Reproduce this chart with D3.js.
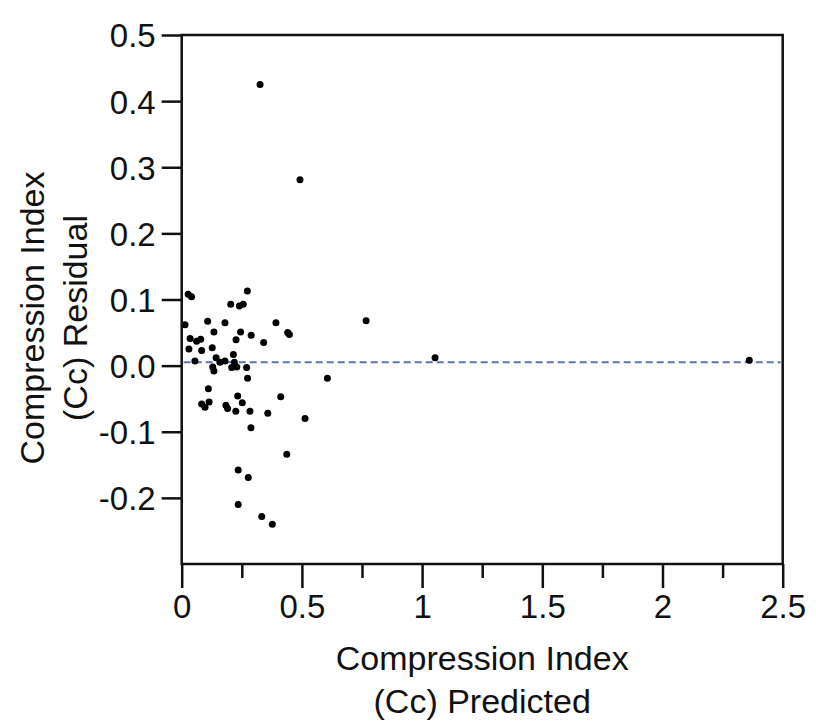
<!DOCTYPE html>
<html>
<head>
<meta charset="utf-8">
<script src="https://cdn.jsdelivr.net/npm/d3@7/dist/d3.min.js"></script>
<style>
  html, body { margin: 0; padding: 0; background: #fff; }
  svg { display: block; }
  text { font-family: "Liberation Sans", Arial, Helvetica, sans-serif; fill: #111; }
</style>
</head>
<body>
<svg id="chart" width="816" height="723"></svg>
<script>
// ---- Data ----
const predicted = [
  0.326, 0.492, 1.054, 2.361, 0.767, 0.606, 0.027, 0.041, 0.273, 0.204,
  0.240, 0.256, 0.014, 0.108, 0.180, 0.134, 0.245, 0.289, 0.392, 0.441,
  0.448, 0.341, 0.035, 0.062, 0.079, 0.226, 0.030, 0.083, 0.127, 0.055,
  0.143, 0.159, 0.180, 0.215, 0.219, 0.208, 0.229, 0.129, 0.134, 0.270,
  0.274, 0.111, 0.083, 0.097, 0.114, 0.184, 0.191, 0.233, 0.252, 0.225,
  0.284, 0.412, 0.358, 0.513, 0.288, 0.437, 0.235, 0.277, 0.235, 0.333,
  0.377
];
const residual = [
  0.425, 0.281, 0.012, 0.008, 0.068, -0.019, 0.108, 0.104, 0.113, 0.093,
  0.090, 0.093, 0.062, 0.067, 0.065, 0.051, 0.051, 0.046, 0.065, 0.050,
  0.047, 0.035, 0.041, 0.037, 0.040, 0.039, 0.025, 0.023, 0.027, 0.007,
  0.012, 0.005, 0.007, 0.017, 0.005, -0.003, -0.002, -0.002, -0.008, -0.003,
  -0.019, -0.035, -0.058, -0.063, -0.055, -0.060, -0.065, -0.046, -0.056, -0.069,
  -0.069, -0.047, -0.072, -0.080, -0.094, -0.134, -0.158, -0.169, -0.210, -0.228,
  -0.240
];
const xMajorTicks = [0, 0.5, 1, 1.5, 2, 2.5];
const xMinorTicks = [0.25, 0.75, 1.25, 1.75, 2.25];
const xTickLabels = ["0", "0.5", "1", "1.5", "2", "2.5"];
const yTicks = [-0.2, -0.1, 0, 0.1, 0.2, 0.3, 0.4, 0.5];
const yTickLabels = ["-0.2", "-0.1", "0.0", "0.1", "0.2", "0.3", "0.4", "0.5"];
const xDomain = [0, 2.5];
const yDomain = [-0.3, 0.5];
const referenceLine = 0.005;
const xTitle = ["Compression Index", "(Cc) Predicted"];
const yTitle = ["Compression Index", "(Cc) Residual"];

(function () {
// ---- Layout ----
const pL = 181.7, pR = 782.7, pT = 35, pB = 564;
const svg = d3.select("#chart");
const x = d3.scaleLinear().domain(xDomain).range([pL, pR]);
const y = d3.scaleLinear().domain(yDomain).range([pB, pT]);

// reference line
svg.append("line")
  .attr("x1", x(xDomain[0]) + 2).attr("x2", x(xDomain[1]) - 2)
  .attr("y1", y(referenceLine)).attr("y2", y(referenceLine))
  .attr("stroke", "#5a75b4").attr("stroke-width", 2)
  .attr("stroke-dasharray", "7,4");

// points
svg.append("g").selectAll("circle")
  .data(predicted.map((p, i) => [p, residual[i]]))
  .join("circle")
  .attr("cx", d => x(d[0]))
  .attr("cy", d => y(d[1]))
  .attr("r", 3.5)
  .attr("fill", "#000");

// frame
svg.append("rect")
  .attr("x", pL).attr("y", pT)
  .attr("width", pR - pL).attr("height", pB - pT)
  .attr("fill", "none").attr("stroke", "#111").attr("stroke-width", 2.5);

// x axis major
const xAxis = svg.append("g")
  .attr("transform", `translate(0,${pB})`)
  .call(d3.axisBottom(x).tickValues(xMajorTicks)
    .tickFormat((d, i) => xTickLabels[i]).tickSize(24).tickPadding(6));
xAxis.select(".domain").remove();
xAxis.selectAll("line").attr("stroke", "#111").attr("stroke-width", 2.5);
xAxis.selectAll("text").attr("font-size", 33).attr("fill", "#111")
  .attr("font-family", '"Liberation Sans", Arial, sans-serif')
  .attr("dy", "0.72em");

// x axis minor
const xMinor = svg.append("g")
  .attr("transform", `translate(0,${pB})`)
  .call(d3.axisBottom(x).tickValues(xMinorTicks).tickFormat("").tickSize(14));
xMinor.select(".domain").remove();
xMinor.selectAll("line").attr("stroke", "#111").attr("stroke-width", 2.5);

// y axis
const yAxis = svg.append("g")
  .attr("transform", `translate(${pL},0)`)
  .call(d3.axisLeft(y).tickValues(yTicks)
    .tickFormat((d, i) => yTickLabels[i]).tickSize(20).tickPadding(6));
yAxis.select(".domain").remove();
yAxis.selectAll("line").attr("stroke", "#111").attr("stroke-width", 2.5);
yAxis.selectAll("text").attr("font-size", 33).attr("fill", "#111")
  .attr("font-family", '"Liberation Sans", Arial, sans-serif')
  .attr("dy", "0.36em");

// x title
svg.append("text").attr("x", (pL + pR) / 2).attr("y", 670)
  .attr("text-anchor", "middle").attr("font-size", 34).text(xTitle[0]);
svg.append("text").attr("x", (pL + pR) / 2).attr("y", 713)
  .attr("text-anchor", "middle").attr("font-size", 34).text(xTitle[1]);

// y title
svg.append("text").attr("transform", "translate(44,318) rotate(-90)")
  .attr("text-anchor", "middle").attr("font-size", 34).text(yTitle[0]);
svg.append("text").attr("transform", "translate(87,318) rotate(-90)")
  .attr("text-anchor", "middle").attr("font-size", 34).text(yTitle[1]);
})();
</script>
</body>
</html>
